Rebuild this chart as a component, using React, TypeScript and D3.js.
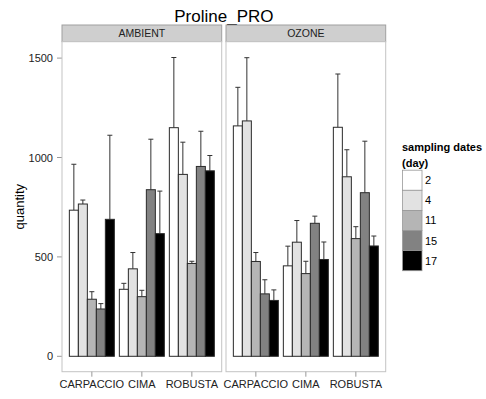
import React from "react";
import * as d3 from "d3";

const panels = ["AMBIENT", "OZONE"];
const cultivars = ["CARPACCIO", "CIMA", "ROBUSTA"];
const days = ["2", "4", "11", "15", "17"];
const dayColors = ["#ffffff", "#e2e2e2", "#b5b5b5", "#828282", "#000000"];
const yTicks = [0, 500, 1000, 1500];

// mean quantity per cultivar (rows) and sampling day (columns)
const ambientMean = [
  [735, 766, 287, 238, 689],
  [337, 440, 300, 838, 617],
  [1150, 915, 467, 955, 933],
];
const ambientUpper = [
  [966, 786, 325, 265, 1112],
  [367, 522, 332, 1092, 831],
  [1503, 1077, 478, 1132, 1010],
];
const ozoneMean = [
  [1159, 1184, 477, 314, 281],
  [455, 574, 416, 669, 487],
  [1152, 903, 592, 823, 555],
];
const ozoneUpper = [
  [1353, 1502, 522, 385, 334],
  [554, 683, 478, 705, 575],
  [1420, 1039, 652, 1082, 605],
];

const panelMeans = [ambientMean, ozoneMean];
const panelUppers = [ambientUpper, ozoneUpper];

const W = 486;
const H = 399;
const font = "Liberation Sans, Arial, sans-serif";

export default function App() {
  const panelTop = 41.7;
  const panelBottom = 371.7;
  const stripTop = 25;
  const panelX: [number, number][] = [
    [62, 221.7],
    [226, 385.7],
  ];
  const y = d3.scaleLinear().domain([0, 1500]).range([356.3, 58.1]);

  return (
    <svg
      width={W}
      height={H}
      style={{ position: "absolute", left: 0, top: 0, background: "#fff" }}
      fontFamily={font}
    >
      <rect x={0} y={0} width={W} height={H} fill="#fff" />
      <text x={223.9} y={21.5} fontSize={17} textAnchor="middle" fill="#000">
        Proline_PRO
      </text>
      <text
        transform={`translate(24,${(panelTop + panelBottom) / 2}) rotate(-90)`}
        fontSize={13}
        textAnchor="middle"
        fill="#000"
      >
        quantity
      </text>
      {/* y axis */}
      {yTicks.map((t) => (
        <g key={t}>
          <line x1={57} x2={62} y1={y(t)} y2={y(t)} stroke="#999" strokeWidth={1} />
          <text x={53} y={y(t) + 4} fontSize={11} textAnchor="end" fill="#222">
            {t}
          </text>
        </g>
      ))}
      {panels.map((p, pi) => {
        const [x0, x1] = panelX[pi];
        const xb = d3
          .scaleBand<string>()
          .domain(cultivars)
          .range([x0, x1])
          .paddingInner(0.1)
          .paddingOuter(0.147);
        const xi = d3
          .scaleBand<string>()
          .domain(days)
          .range([0, xb.bandwidth()]);
        const means = panelMeans[pi];
        const uppers = panelUppers[pi];
        return (
          <g key={p}>
            <rect
              x={x0}
              y={stripTop}
              width={x1 - x0}
              height={panelTop - stripTop}
              fill="#cfcfcf"
              stroke="#a0a0a0"
              strokeWidth={1}
            />
            <text
              x={(x0 + x1) / 2}
              y={stripTop + 12.3}
              fontSize={10.5}
              textAnchor="middle"
              fill="#222"
            >
              {p}
            </text>
            <rect
              x={x0}
              y={panelTop}
              width={x1 - x0}
              height={panelBottom - panelTop}
              fill="#fff"
              stroke="#c4c4c4"
              strokeWidth={1}
            />
            {cultivars.map((c, ci) => {
              const gx = xb(c)!;
              return (
                <g key={c}>
                  {days.map((d, di) => {
                    const bx = gx + xi(d)!;
                    const bw = xi.bandwidth();
                    const cx = bx + bw / 2;
                    const m = means[ci][di];
                    const u = uppers[ci][di];
                    return (
                      <g key={d}>
                        <line x1={cx} x2={cx} y1={y(m)} y2={y(u)} stroke="#333" strokeWidth={1} />
                        <line x1={cx - 2.5} x2={cx + 2.5} y1={y(u)} y2={y(u)} stroke="#333" strokeWidth={1} />
                        <rect
                          x={bx}
                          y={y(m)}
                          width={bw}
                          height={y(0) - y(m)}
                          fill={dayColors[di]}
                          stroke="#2a2a2a"
                          strokeWidth={1}
                        />
                      </g>
                    );
                  })}
                  <line
                    x1={gx + xb.bandwidth() / 2}
                    x2={gx + xb.bandwidth() / 2}
                    y1={panelBottom}
                    y2={panelBottom + 5}
                    stroke="#999"
                    strokeWidth={1}
                  />
                  <text
                    x={gx + xb.bandwidth() / 2}
                    y={388}
                    fontSize={11}
                    textAnchor="middle"
                    fill="#222"
                  >
                    {c}
                  </text>
                </g>
              );
            })}
          </g>
        );
      })}
      {/* legend */}
      <text x={402} y={151} fontSize={11} fontWeight="bold" fill="#000">
        sampling dates
      </text>
      <text x={402} y={166.5} fontSize={11} fontWeight="bold" fill="#000">
        (day)
      </text>
      {days.map((d, di) => {
        const ky = 170.2 + di * 20.1;
        return (
          <g key={d}>
            <rect x={402.5} y={ky} width={19.5} height={20.1} fill={dayColors[di]} stroke="#999" strokeWidth={0.8} />
            <text x={425} y={ky + 14} fontSize={11} fill="#000">
              {d}
            </text>
          </g>
        );
      })}
    </svg>
  );
}
